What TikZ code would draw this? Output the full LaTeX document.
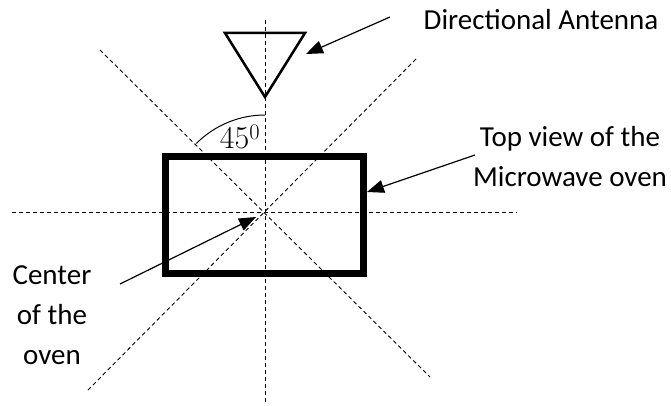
\documentclass[tikz,border=0pt]{standalone}
\usepackage{fontspec}
\setmainfont{Carlito}
\newfontfamily\lmfont{Latin Modern Roman}
\usetikzlibrary{arrows.meta}

\begin{document}
\begin{tikzpicture}[x=1pt, y=1pt,
  axe/.style={dash pattern=on 4pt off 3pt, line width=0.9pt},
  fleche/.style={-{Triangle[length=17pt, width=13pt]}, line width=1.2pt},
  legende/.style={font=\fontsize{29}{40}\selectfont, align=center, inner sep=0pt}]

\useasboundingbox (0,0) rectangle (671,405);

% Centre du four
\coordinate (c) at (265,193);

% Axes en pointillés
\draw[axe] (265,385) -- (265,2);
\draw[axe] (12,193) -- (517,193);
\draw[axe] (100,355) -- (430,28);
\draw[axe] (88,15) -- (417,347);

% Four (vue de dessus)
\node[draw, line width=7pt, minimum width=198pt, minimum height=117pt, inner sep=0pt] (four) at (264.5,190) {};

% Antenne directionnelle
\coordinate (a1) at (225,372);
\coordinate (a2) at (305,372);
\coordinate (a3) at (265,308);
\draw[line width=2.5pt, line join=miter] (a1) -- (a2) -- (a3) -- cycle;

% Angle de 45 degres
\draw[line width=1pt] (c) ++(0,97) arc[start angle=90, end angle=135, radius=97];
\node[font=\lmfont\fontsize{32}{36}\selectfont, inner sep=0pt] (angle) at (240,268) {45\textsuperscript{0}};

% Textes
\node[legende] (antenne) at (541,385) {Directional Antenna};
\node[legende] (vue) at (570,248) {Top view of the\\Microwave oven};
\node[legende] (centre) at (52,90) {Center\\of the\\oven};

% Flèches
\coordinate (t1) at (390,388);
\coordinate (p1) at (306,351);
\coordinate (t2) at (475,250);
\coordinate (p2) at (367,213);
\coordinate (t3) at (120,121);
\coordinate (p3) at (256,188);
\draw[fleche] (t1) -- (p1);
\draw[fleche] (t2) -- (p2);
\draw[fleche] (t3) -- (p3);

\end{tikzpicture}
\end{document}
